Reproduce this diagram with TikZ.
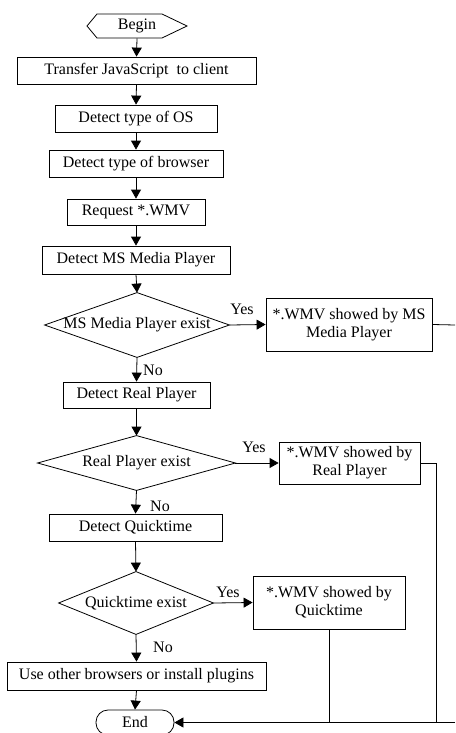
\documentclass[tikz,border=0pt]{standalone}
\usepackage{fontspec}
\setmainfont{Liberation Serif}
\usetikzlibrary{arrows.meta}
\begin{document}
\begin{tikzpicture}[x=1pt,y=-1pt,
  font=\fontsize{16}{18}\selectfont,
  line width=0.8pt,
  box/.style={draw,rectangle,inner sep=0pt,align=center},
  dec/.style={rectangle,inner sep=0pt},
  arr/.style={-{Triangle[length=9pt,width=10pt]}},
  lbl/.style={inner sep=0pt}]
\useasboundingbox (0,0) rectangle (455,733);
% nodes
\node[dec,minimum width=100,minimum height=24] (begin) at (137,26) {Begin};
\draw (87,26) -- (97,14) -- (162,14) -- (187,26) -- (162,38) -- (97,38) -- cycle;
\node[box,minimum width=239,minimum height=27] (tr) at (136.5,70.5) {Transfer JavaScript\ \ to client};
\node[box,minimum width=162,minimum height=27] (os) at (136,118.5) {Detect type of OS};
\node[box,minimum width=174,minimum height=27] (br) at (136,163.5) {Detect type of browser};
\node[box,minimum width=138,minimum height=26] (rq) at (136,212) {Request *.WMV};
\node[box,minimum width=188,minimum height=28] (dms) at (136,260) {Detect MS Media Player};
\node[dec,minimum width=184,minimum height=64] (ms) at (137,325) {MS Media Player exist};
\draw (ms.north) -- (ms.east) -- (ms.south) -- (ms.west) -- cycle;
\node[box,minimum width=166,minimum height=53] (msb) at (349,324.5) {*.WMV showed by MS\\Media Player};
\node[box,minimum width=147,minimum height=26] (drp) at (136.5,395) {Detect Real Player};
\node[dec,minimum width=197,minimum height=54] (rp) at (136.5,463) {Real Player exist};
\draw (rp.north) -- (rp.east) -- (rp.south) -- (rp.west) -- cycle;
\node[box,minimum width=141,minimum height=42] (rpb) at (349.5,463) {*.WMV showed by\\Real Player};
\node[box,minimum width=173,minimum height=27] (dqt) at (135.5,527.5) {Detect Quicktime};
\node[dec,minimum width=154,minimum height=62] (qt) at (136,603) {Quicktime exist};
\draw (qt.north) -- (qt.east) -- (qt.south) -- (qt.west) -- cycle;
\node[box,minimum width=152,minimum height=53] (qtb) at (329,602.5) {*.WMV showed by\\Quicktime};
\node[box,minimum width=259,minimum height=28] (use) at (136.5,676) {Use other browsers or install plugins};
\node[draw,rounded corners=12pt,minimum width=78,minimum height=25,inner sep=0pt] (end) at (135,722.5) {End};
% coordinates
\coordinate (msr) at (455,325);
\coordinate (br1) at (455,722.5);
\coordinate (rpc) at (436,463);
\coordinate (rpd) at (436,722.5);
\coordinate (qtd) at (329,722.5);
% connectors
\draw[arr] (begin.south) -- (tr.north);
\draw[arr] (tr.south) -- (os.north);
\draw[arr] (os.south) -- (br.north);
\draw[arr] (br.south) -- (rq.north);
\draw[arr] (rq.south) -- (dms.north);
\draw[arr] (dms.south) -- (ms.north);
\draw[arr] (ms.east) -- (msb.west);
\draw[arr] (ms.south) -- (drp.north);
\draw[arr] (drp.south) -- (rp.north);
\draw[arr] (rp.east) -- (rpb.west);
\draw[arr] (rp.south) -- (dqt.north);
\draw[arr] (dqt.south) -- (qt.north);
\draw[arr] (qt.east) -- (qtb.west);
\draw[arr] (qt.south) -- (use.north);
\draw[arr] (use.south) -- (end.north);
\draw (msb.east) -- (msr);
\draw (rpb.east) -- (rpc) -- (rpd);
\draw (qtb.south) -- (qtd);
\draw[arr] (br1) -- (end.east);
% labels
\node[lbl] (y1) at (242,309) {Yes};
\node[lbl] (n1) at (153,370) {No};
\node[lbl] (y2) at (254,447) {Yes};
\node[lbl] (n2) at (160,506) {No};
\node[lbl] (y3) at (228,592) {Yes};
\node[lbl] (n3) at (163,647) {No};
\end{tikzpicture}
\end{document}
